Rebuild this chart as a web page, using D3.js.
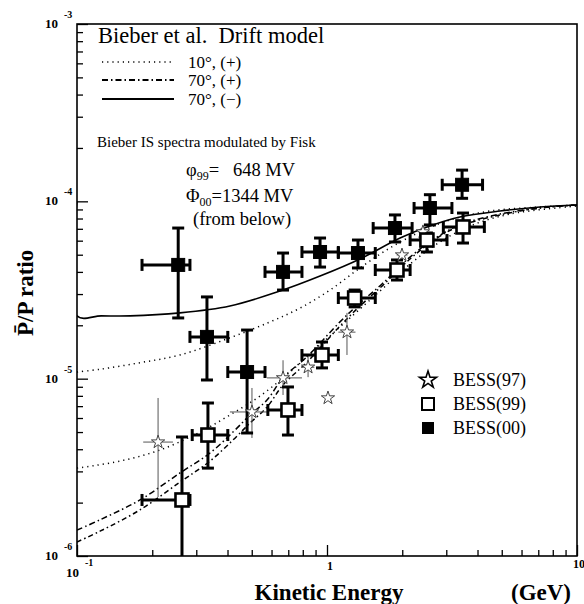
<!DOCTYPE html>
<html><head><meta charset="utf-8">
<script src="https://cdn.jsdelivr.net/npm/d3@7"></script>
<style>
body{margin:0;background:#fff}
svg{display:block}
text{font-family:"Liberation Serif","Times New Roman",serif;fill:#000}
</style>
</head><body><svg id="c" width="584" height="604"></svg>
<script>
// ---------- data ----------
const xDomain = [0.1, 10];
const yDomain = [1e-6, 1e-3];
const yMajorTicks = [1e-6, 1e-5, 1e-4, 1e-3];
const yTickExp = ["-6", "-5", "-4", "-3"];
const xMajorTicks = [0.1, 1, 10];

// BESS(00) filled squares
const bess00_E   = [0.254, 0.331, 0.479, 0.667, 0.938, 1.33, 1.87, 2.58, 3.47];
const bess00_Elo = [0.182, 0.283, 0.401, 0.565, 0.794, 1.11, 1.53, 2.23, 2.89];
const bess00_Ehi = [0.283, 0.401, 0.565, 0.794, 1.11, 1.56, 2.19, 3.16, 4.19];
const bess00_R   = [4.38e-5, 1.72e-5, 1.09e-5, 4.00e-5, 5.18e-5, 5.11e-5, 7.07e-5, 9.17e-5, 1.24e-4];
const bess00_Rlo = [2.20e-5, 9.83e-6, 4.94e-6, 3.16e-5, 4.26e-5, 4.21e-5, 5.90e-5, 7.36e-5, 1.04e-4];
const bess00_Rhi = [7.07e-5, 2.89e-5, 1.88e-5, 5.11e-5, 6.21e-5, 6.05e-5, 8.38e-5, 1.09e-4, 1.50e-4];

// BESS(99) open squares
const bess99_E   = [0.263, 0.334, 0.698, 0.955, 1.29, 1.905, 2.51, 3.50];
const bess99_Elo = [0.182, 0.289, 0.58, 0.794, 1.11, 1.56, 2.15, 2.92];
const bess99_Ehi = [0.283, 0.401, 0.794, 1.11, 1.56, 2.15, 3.02, 4.26];
const bess99_R   = [2.07e-6, 4.81e-6, 6.66e-6, 1.36e-5, 2.85e-5, 4.10e-5, 6.05e-5, 7.17e-5];
const bess99_Rlo = [5e-7, 3.13e-6, 4.81e-6, 1.15e-5, 2.54e-5, 3.60e-5, 5.18e-5, 5.82e-5];
const bess99_Rhi = [4.69e-6, 7.29e-6, 8.98e-6, 1.61e-5, 3.16e-5, 4.67e-5, 6.63e-5, 8.59e-5];

// BESS(97) stars
const bess97_E   = [0.211, 0.501, 0.667, 0.840, 1.009, 1.202, 1.995, 2.42];
const bess97_Elo = [0.184, 0.409, 0.575, 0.794, 1.009, 1.11, 1.90, 2.42];
const bess97_Ehi = [0.242, 0.575, 0.794, 0.89, 1.009, 1.30, 2.10, 2.42];
const bess97_R   = [4.39e-6, 6.49e-6, 1.01e-5, 1.16e-5, 7.78e-6, 1.83e-5, 4.98e-5, 6.72e-5];
const bess97_Rlo = [2.15e-6, 4.63e-6, 8.09e-6, 1.02e-5, 7.78e-6, 1.36e-5, 4.60e-5, 6.72e-5];
const bess97_Rhi = [7.78e-6, 8.86e-6, 1.27e-5, 1.33e-5, 7.78e-6, 2.35e-5, 5.30e-5, 6.72e-5];

// Model curves [E, ratio]
const curve70minus_phi00 = [[0.1,1.0e-4],[0.1,2.26e-5],[0.125,2.26e-5],[0.163,2.26e-5],[0.258,2.35e-5],[0.409,2.57e-5],[0.649,3.12e-5],[0.938,3.79e-5],[1.355,4.73e-5],[1.96,6.21e-5],[2.58,7.26e-5],[3.40,8.16e-5],[4.92,8.82e-5],[7.11,9.29e-5],[10,9.54e-5]];
const curve10plus_phi00 = [[0.1,1.09e-5],[0.1236,1.13e-5],[0.1786,1.23e-5],[0.258,1.36e-5],[0.409,1.70e-5],[0.592,2.09e-5],[0.780,2.50e-5],[1.028,3.16e-5],[1.355,4.21e-5],[1.786,5.46e-5],[2.355,6.72e-5],[3.105,7.85e-5],[4.487,8.82e-5],[7.11,9.29e-5],[10,9.54e-5]];
const curve10plus_phi99 = [[0.1,3.13e-6],[0.1486,3.43e-6],[0.2148,3.96e-6],[0.3105,5.00e-6],[0.409,6.24e-6],[0.5395,7.98e-6],[0.7112,1.09e-5],[0.938,1.55e-5],[1.236,2.20e-5],[1.629,3.12e-5],[2.148,4.43e-5],[2.831,5.90e-5],[3.733,7.26e-5],[5.395,8.48e-5],[10,9.41e-5]];
const curve70plus_phi00 = [[0.1,1.40e-6],[0.1236,1.60e-6],[0.1786,2.07e-6],[0.2582,2.94e-6],[0.3404,3.81e-6],[0.4207,5.00e-6],[0.492,6.24e-6],[0.5754,7.58e-6],[0.6668,1.01e-5],[0.8318,1.33e-5],[1.127,2.09e-5],[1.355,2.67e-5],[1.675,3.46e-5],[2.148,4.85e-5],[2.754,6.29e-5],[3.404,7.36e-5],[4.92,8.48e-5],[7.11,9.17e-5],[10,9.54e-5]];
const curve70plus_phi99 = [[0.1,1.20e-6],[0.1236,1.38e-6],[0.1786,1.82e-6],[0.2582,2.61e-6],[0.3404,3.43e-6],[0.4207,4.51e-6],[0.492,5.62e-6],[0.5754,6.92e-6],[0.6668,9.21e-6],[0.8318,1.24e-5],[1.127,1.98e-5],[1.355,2.57e-5],[1.675,3.37e-5],[2.148,4.73e-5],[2.754,6.21e-5],[3.404,7.26e-5],[4.92,8.38e-5],[7.11,9.17e-5],[10,9.54e-5]];

const legendLabels = ["10°, (+)", "70°, (+)", "70°, (\u2212)"];
const bessLabels = ["BESS(97)", "BESS(99)", "BESS(00)"];

// ---------- layout ----------
const L = 77, R = 577, T = 24, B = 556;
const svg = d3.select("#c");
const x = d3.scaleLog().domain(xDomain).range([L, R]);
const y = d3.scaleLog().domain(yDomain).range([B, T]);

svg.append("defs").append("clipPath").attr("id","clip")
  .append("rect").attr("x",L).attr("y",T).attr("width",R-L).attr("height",B-T);

// axes ticks (inward)
const yMinor = y.ticks().filter(v => !yMajorTicks.some(m => Math.abs(m - v) / m < 1e-6));
const xMinor = x.ticks().filter(v => !xMajorTicks.some(m => Math.abs(m - v) / m < 1e-6));
function styleAxis(g){ g.select(".domain").remove(); g.selectAll("line").attr("stroke","#000").attr("stroke-width",1.3); g.selectAll("text").remove(); }
svg.append("g").attr("transform",`translate(${L},0)`)
  .call(d3.axisLeft(y).tickValues(yMajorTicks).tickSize(-11).tickFormat("")).call(styleAxis);
svg.append("g").attr("transform",`translate(${L},0)`)
  .call(d3.axisLeft(y).tickValues(yMinor).tickSize(-6).tickFormat("")).call(styleAxis);
svg.append("g").attr("transform",`translate(0,${B})`)
  .call(d3.axisBottom(x).tickValues(xMajorTicks).tickSize(-11).tickFormat("")).call(styleAxis);
svg.append("g").attr("transform",`translate(0,${B})`)
  .call(d3.axisBottom(x).tickValues(xMinor).tickSize(-6).tickFormat("")).call(styleAxis);

// frame
svg.append("rect").attr("x",L).attr("y",T).attr("width",R-L).attr("height",B-T)
  .attr("fill","none").attr("stroke","#000").attr("stroke-width",1.6);

// y tick labels
yMajorTicks.forEach((v,i) => {
  const yy = y(v);
  svg.append("text").attr("x",58).attr("y",yy+4).attr("text-anchor","end")
    .attr("font-size",13).attr("font-weight","bold").text("10");
  svg.append("text").attr("x",64).attr("y",yy-6)
    .attr("font-size",10).attr("font-weight","bold").text(yTickExp[i]);
});
// x tick labels
svg.append("text").attr("x",x(0.1)+2).attr("y",577).attr("text-anchor","end")
  .attr("font-size",13).attr("font-weight","bold").text("10");
svg.append("text").attr("x",x(0.1)+8).attr("y",566)
  .attr("font-size",10).attr("font-weight","bold").text("-1");
svg.append("text").attr("x",x(1)+3).attr("y",570).attr("text-anchor","middle")
  .attr("font-size",12).attr("font-weight","bold").text("1");
svg.append("text").attr("x",x(10)-4).attr("y",568)
  .attr("font-size",12).attr("font-weight","bold").text("10");

// axis titles
svg.append("text").attr("x",329).attr("y",600).attr("text-anchor","middle")
  .attr("font-size",23).attr("font-weight","bold").text("Kinetic Energy");
svg.append("text").attr("x",541).attr("y",600).attr("text-anchor","middle")
  .attr("font-size",23).attr("font-weight","bold").text("(GeV)");
svg.append("text").attr("transform","translate(33,336) rotate(-90)")
  .attr("font-size",23).attr("font-weight","bold").text("P\u0304/P ratio");

// ---------- curves ----------
const plot = svg.append("g").attr("clip-path","url(#clip)");
const line = d3.line().x(d => x(d[0])).y(d => y(d[1])).curve(d3.curveCatmullRom.alpha(0.5));
const curves = [
  {d: curve70minus_phi00, dash: null, w: 1.6},
  {d: curve10plus_phi00, dash: "1.2,4", w: 1.5},
  {d: curve10plus_phi99, dash: "1.2,4", w: 1.5},
  {d: curve70plus_phi00, dash: "6,3,1.5,3", w: 1.5},
  {d: curve70plus_phi99, dash: "5,3,1.5,3", w: 1.5}
];
curves.forEach(c => {
  plot.append("path").attr("d", line(c.d)).attr("fill","none").attr("stroke","#000")
    .attr("stroke-width", c.w).attr("stroke-dasharray", c.dash);
});

// ---------- error bars ----------
function errBars(E, Elo, Ehi, Rv, Rlo, Rhi, opt){
  const g = plot.append("g").attr("stroke", opt.color).attr("stroke-width", opt.w).attr("fill","none");
  E.forEach((e,i) => {
    const cx = x(e), cy = y(Rv[i]);
    if (Elo[i] !== Ehi[i]) {
      g.append("line").attr("x1",x(Elo[i])).attr("x2",x(Ehi[i])).attr("y1",cy).attr("y2",cy);
      if (opt.cap) {
        g.append("line").attr("x1",x(Elo[i])).attr("x2",x(Elo[i])).attr("y1",cy-opt.cap).attr("y2",cy+opt.cap);
        g.append("line").attr("x1",x(Ehi[i])).attr("x2",x(Ehi[i])).attr("y1",cy-opt.cap).attr("y2",cy+opt.cap);
      }
    }
    if (Rlo[i] !== Rhi[i]) {
      g.append("line").attr("x1",cx).attr("x2",cx).attr("y1",y(Rlo[i])).attr("y2",y(Rhi[i]));
      if (opt.cap) {
        g.append("line").attr("x1",cx-opt.cap).attr("x2",cx+opt.cap).attr("y1",y(Rlo[i])).attr("y2",y(Rlo[i]));
        g.append("line").attr("x1",cx-opt.cap).attr("x2",cx+opt.cap).attr("y1",y(Rhi[i])).attr("y2",y(Rhi[i]));
      }
    }
  });
}
errBars(bess97_E, bess97_Elo, bess97_Ehi, bess97_R, bess97_Rlo, bess97_Rhi, {color:"#555", w:1, cap:0});
errBars(bess99_E, bess99_Elo, bess99_Ehi, bess99_R, bess99_Rlo, bess99_Rhi, {color:"#000", w:3, cap:6});
errBars(bess00_E, bess00_Elo, bess00_Ehi, bess00_R, bess00_Rlo, bess00_Rhi, {color:"#000", w:3, cap:6});

// ---------- markers ----------
const star = d3.symbol().type(d3.symbolStar);
plot.selectAll("path.s97").data(bess97_E).join("path").attr("class","s97")
  .attr("d", star.size(55)())
  .attr("transform",(d,i)=>`translate(${x(d)},${y(bess97_R[i])})`)
  .attr("fill","#fff").attr("stroke","#444").attr("stroke-width",1);
const sq = 13;
plot.selectAll("rect.s99").data(bess99_E).join("rect").attr("class","s99")
  .attr("x",d=>x(d)-sq/2).attr("y",(d,i)=>y(bess99_R[i])-sq/2).attr("width",sq).attr("height",sq)
  .attr("fill","#fff").attr("stroke","#000").attr("stroke-width",2.6);
plot.selectAll("rect.s00").data(bess00_E).join("rect").attr("class","s00")
  .attr("x",d=>x(d)-sq/2).attr("y",(d,i)=>y(bess00_R[i])-sq/2).attr("width",sq).attr("height",sq)
  .attr("fill","#000").attr("stroke","#000").attr("stroke-width",1);

// ---------- top-left legend ----------
svg.append("text").attr("x",98).attr("y",43).attr("font-size",22.5).text("Bieber et al.\u00a0 Drift model");
const legDash = [[ "1.2,4", 1.4], ["6,3,1.5,3", 2], [null, 2]];
const legY = [62, 80, 99];
legDash.forEach((s,i) => {
  svg.append("line").attr("x1",102).attr("x2",174).attr("y1",legY[i]).attr("y2",legY[i])
    .attr("stroke","#000").attr("stroke-width",s[1]).attr("stroke-dasharray",s[0]);
  svg.append("text").attr("x",188).attr("y",legY[i]+6).attr("font-size",17).text(legendLabels[i]);
});

// annotation
svg.append("text").attr("x",97).attr("y",147).attr("font-size",15).text("Bieber IS spectra modulated by Fisk");
const t1 = svg.append("text").attr("x",186).attr("y",176).attr("font-size",18.5);
t1.append("tspan").text("\u03c6");
t1.append("tspan").attr("font-size",12).attr("dy",4).text("99");
t1.append("tspan").attr("dy",-4).text("=\u2002 648 MV");
const t2 = svg.append("text").attr("x",186).attr("y",202).attr("font-size",18.5);
t2.append("tspan").text("\u03a6");
t2.append("tspan").attr("font-size",12).attr("dy",4).text("00");
t2.append("tspan").attr("dy",-4).text("=1344 MV");
svg.append("text").attr("x",193).attr("y",225).attr("font-size",18.5).text("(from below)");

// ---------- BESS legend ----------
const bY = [380, 404, 428];
svg.append("path").attr("d", d3.symbol().type(d3.symbolStar).size(90)())
  .attr("transform",`translate(428,${bY[0]})`).attr("fill","#fff").attr("stroke","#000").attr("stroke-width",1.6);
svg.append("rect").attr("x",428-6).attr("y",bY[1]-6).attr("width",12).attr("height",12)
  .attr("fill","#fff").attr("stroke","#000").attr("stroke-width",2);
svg.append("rect").attr("x",428-6).attr("y",bY[2]-6).attr("width",12).attr("height",12)
  .attr("fill","#000");
bessLabels.forEach((t,i) => {
  svg.append("text").attr("x",453).attr("y",bY[i]+6).attr("font-size",18).text(t);
});
</script></body></html>
